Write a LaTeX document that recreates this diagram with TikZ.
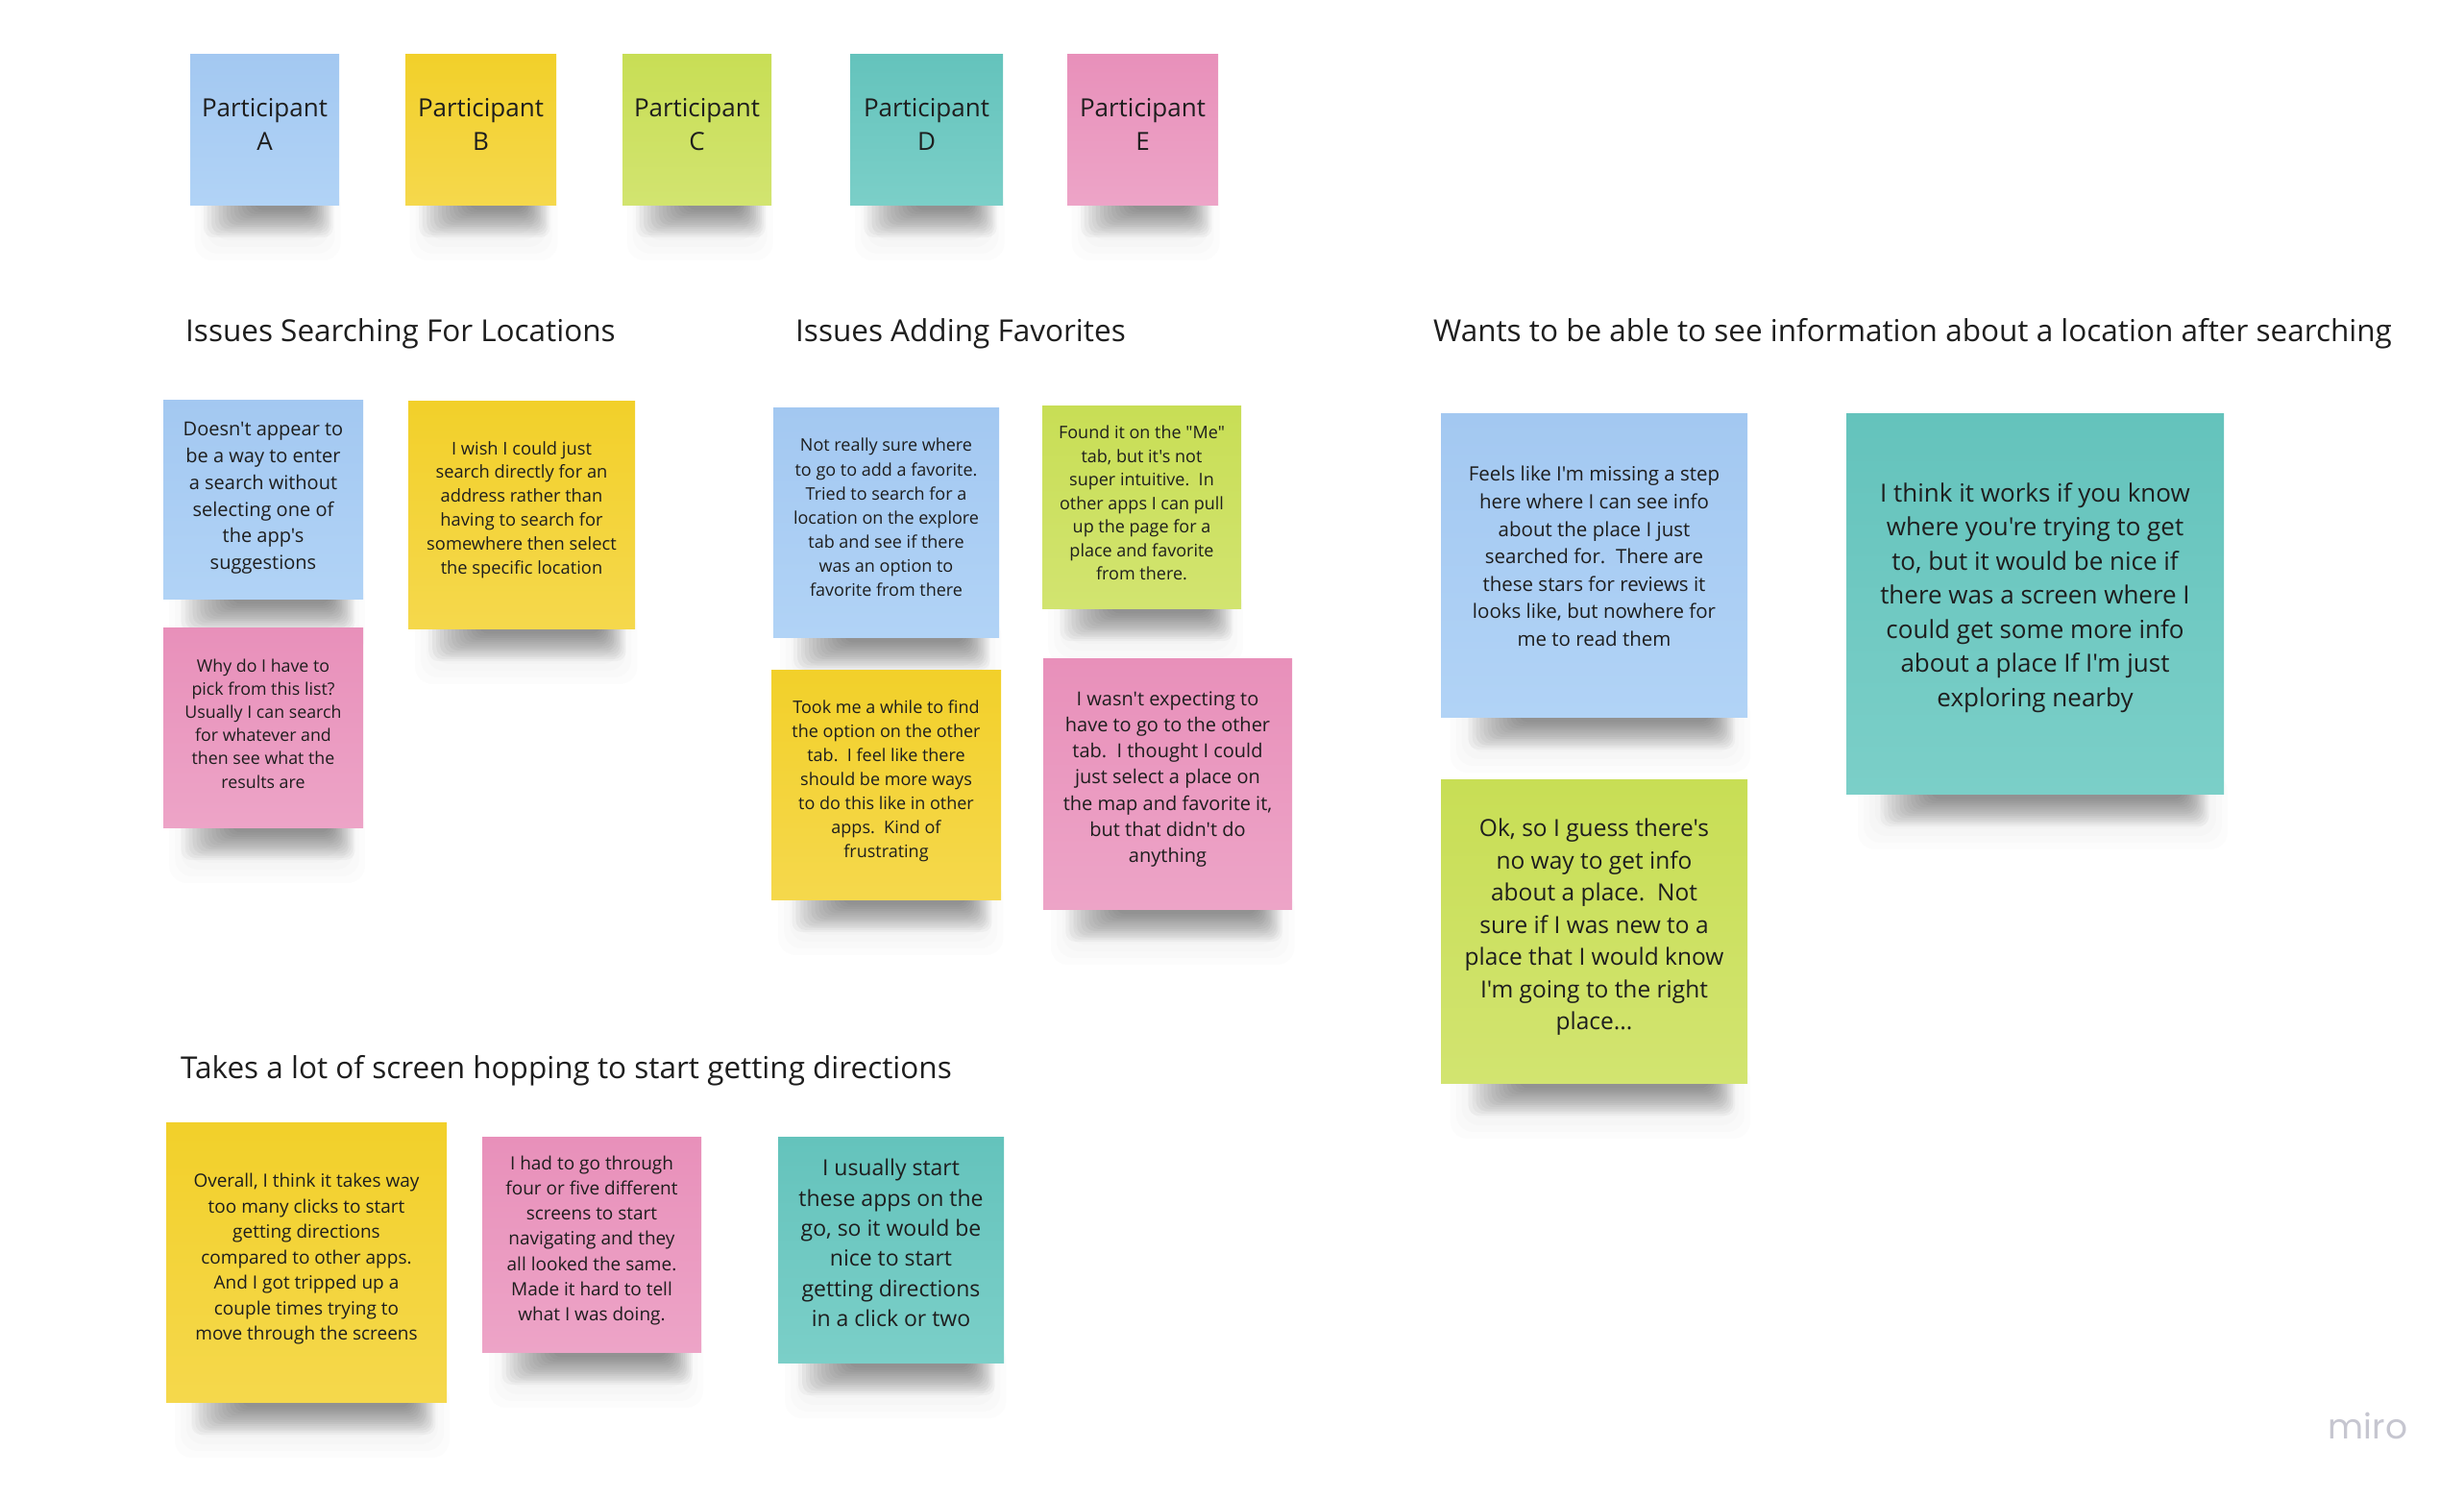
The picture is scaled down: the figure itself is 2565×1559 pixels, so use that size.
\documentclass[tikz,border=0pt]{standalone}
\usepackage{fontspec}
\setmainfont{Open Sans}[Ligatures=TeXOff]
\newfontfamily\logofont{Poppins}
\pgfdeclarelayer{bgl}\pgfdeclarelayer{shl}\pgfsetlayers{bgl,shl,main}
\definecolor{ink}{HTML}{1E1E1E}
\definecolor{logo}{HTML}{C6C6D0}
\definecolor{blutop}{HTML}{A3C8F1}\definecolor{blubot}{HTML}{B1D3F6}
\definecolor{yeltop}{HTML}{F2D02A}\definecolor{yelbot}{HTML}{F5D84C}
\definecolor{grntop}{HTML}{C8DE55}\definecolor{grnbot}{HTML}{D2E470}
\definecolor{teatop}{HTML}{64C3BC}\definecolor{teabot}{HTML}{7BCFC8}
\definecolor{pnktop}{HTML}{E890BA}\definecolor{pnkbot}{HTML}{EDA4C7}
\newcommand\fs[2]{\fontsize{#1pt}{#2pt}\selectfont}
% #1 name, #2 x1, #3 y1, #4 x2, #5 y2, #6 colour, #7 text options, #8 text
\newcommand\sticky[8]{%
  \pgfmathsetmacro\nw{#4-#2}\pgfmathsetmacro\nh{#5-#3}%
  \pgfmathsetmacro\cx{(#2+#4)/2}\pgfmathsetmacro\cy{(#3+#5)/2}%
  \begin{pgfonlayer}{shl}
    \foreach \k in {0,...,5}{\fill[black,opacity=0.01,rounded corners=18pt]
      (#2+0.03*\nw+6*\k, #5-20) rectangle (#4+0.01*\nw-6*\k, #5+58-7*\k);}
    \foreach \k in {0,...,13}{\fill[black,opacity=0.032,rounded corners=10pt]
      (#2+0.09*\nw+4*\k, #5-12) rectangle (#4-0.04*\nw-2*\k, #5+34-2.2*\k);}
  \end{pgfonlayer}
  \node[note, top color=#6top, bottom color=#6bot, minimum width=\nw pt, minimum height=\nh pt] (#1) at (\cx,\cy) {};
  \node[notetext, #7] (#1t) at (#1.center) {#8};
}
\begin{document}
\begin{tikzpicture}[x=1pt,y=-1pt,
  note/.style={rectangle, inner sep=0pt, draw=none},
  notetext/.style={align=center, text=ink, inner sep=0pt},
  heading/.style={font=\fs{31.5}{38}, text=ink, inner sep=0pt, anchor=west}]
\begin{pgfonlayer}{bgl}\fill[white] (0,0) rectangle (2565,1559);\end{pgfonlayer}
\useasboundingbox (0,0) rectangle (2565,1559);

% participants
\sticky{pA}{198}{56}{353}{213}{blu}{font=\fs{26}{35}, yshift=5pt}{Participant\\A}
\sticky{pB}{422}{56}{579}{213}{yel}{font=\fs{26}{35}, yshift=5pt}{Participant\\B}
\sticky{pC}{648}{56}{803}{213}{grn}{font=\fs{26}{35}, yshift=5pt}{Participant\\C}
\sticky{pD}{885}{56}{1044}{213}{tea}{font=\fs{26}{35}, yshift=5pt}{Participant\\D}
\sticky{pE}{1111}{56}{1268}{213}{pnk}{font=\fs{26}{35}, yshift=5pt}{Participant\\E}

% headings
\node[heading] (h1) at (193,347) {Issues Searching For Locations};
\node[heading] (h2) at (828,347) {Issues Adding Favorites};
\node[heading] (h3) at (1492,347) {Wants to be able to see information about a location after searching};
\node[heading] (h4) at (188,1114) {Takes a lot of screen hopping to start getting directions};

% searching
\sticky{n1}{170}{416}{378}{623}{blu}{font=\fs{20}{27.8}, yshift=1pt}{Doesn't appear to\\be a way to enter\\a search without\\selecting one of\\the app's\\suggestions}
\sticky{n2}{425}{417}{661}{654}{yel}{font=\fs{18.3}{24.9}, yshift=5pt}{I wish I could just\\search directly for an\\address rather than\\having to search for\\somewhere then select\\the specific location}
\sticky{n3}{170}{653}{378}{861}{pnk}{font=\fs{17.8}{24.2}, yshift=4pt}{Why do I have to\\pick from this list?\\Usually I can search\\for whatever and\\then see what the\\results are}

% favorites
\sticky{n4}{805}{424}{1040}{663}{blu}{font=\fs{18}{25.1}, yshift=5pt}{Not really sure where\\to go to add a favorite.\\Tried to search for a\\location on the explore\\tab and see if there\\was an option to\\favorite from there}
\sticky{n5}{1085}{422}{1292}{633}{grn}{font=\fs{18}{24.5}, yshift=4pt}{Found it on the "Me"\\tab, but it's not\\super intuitive.\ \ In\\other apps I can pull\\up the page for a\\place and favorite\\from there.}
\sticky{n6}{803}{697}{1042}{936}{yel}{font=\fs{18}{25}, yshift=4pt}{Took me a while to find\\the option on the other\\tab.\ \ I feel like there\\should be more ways\\to do this like in other\\apps.\ \ Kind of\\frustrating}
\sticky{n7}{1086}{685}{1345}{946}{pnk}{font=\fs{20}{27.3}, yshift=4.5pt}{I wasn't expecting to\\have to go to the other\\tab.\ \ I thought I could\\just select a place on\\the map and favorite it,\\but that didn't do\\anything}

% information
\sticky{n8}{1500}{430}{1819}{746}{blu}{font=\fs{20.5}{28.6}, yshift=9pt}{Feels like I'm missing a step\\here where I can see info\\about the place I just\\searched for.\ \ There are\\these stars for reviews it\\looks like, but nowhere for\\me to read them}
\sticky{n9}{1922}{430}{2315}{826}{tea}{font=\fs{26}{35.5}, yshift=6pt}{I think it works if you know\\where you're trying to get\\to, but it would be nice if\\there was a screen where I\\could get some more info\\about a place If I'm just\\exploring nearby}
\sticky{n10}{1500}{811}{1819}{1127}{grn}{font=\fs{24.5}{33.5}, yshift=4pt}{Ok, so I guess there's\\no way to get info\\about a place.\ \ Not\\sure if I was new to a\\place that I would know\\I'm going to the right\\place...}

% directions
\sticky{n11}{173}{1168}{465}{1459}{yel}{font=\fs{19}{26.5}, yshift=3pt}{Overall, I think it takes way\\too many clicks to start\\getting directions\\compared to other apps.\\And I got tripped up a\\couple times trying to\\move through the screens}
\sticky{n12}{502}{1183}{730}{1407}{pnk}{font=\fs{19}{26.2}, yshift=4pt}{I had to go through\\four or five different\\screens to start\\navigating and they\\all looked the same.\\Made it hard to tell\\what I was doing.}
\sticky{n13}{810}{1183}{1045}{1418}{tea}{font=\fs{23}{31.4}, yshift=7pt}{I usually start\\these apps on the\\go, so it would be\\nice to start\\getting directions\\in a click or two}

\node[font=\logofont\fs{36}{40}, text=logo, inner sep=0pt] (miro) at (2465,1484) {miro};
\end{tikzpicture}
\end{document}
